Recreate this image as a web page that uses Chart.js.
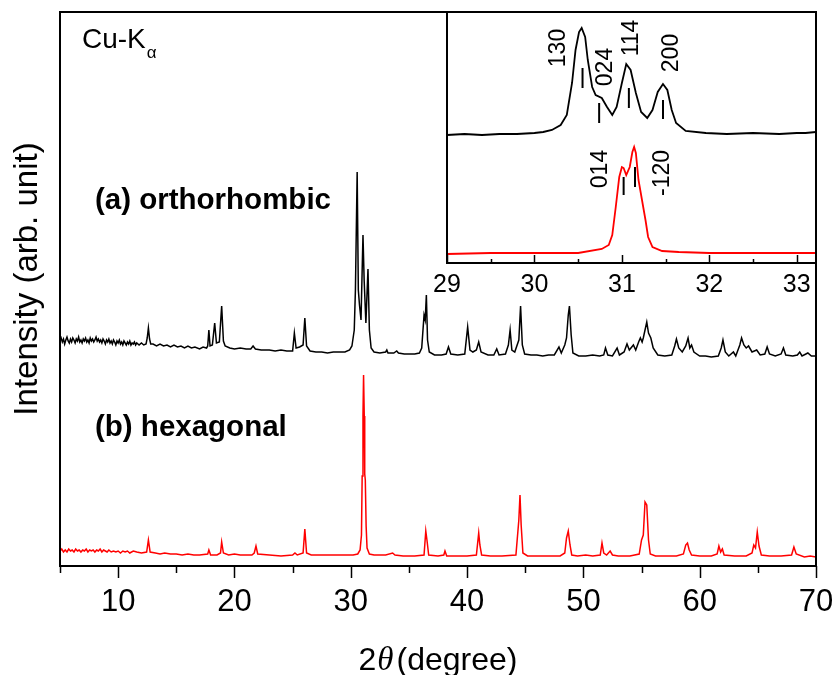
<!DOCTYPE html>
<html lang="en">
<head>
<meta charset="UTF-8">
<title>XRD - orthorhombic vs hexagonal</title>
<script src="https://cdn.jsdelivr.net/npm/chart.js@4.4.1/dist/chart.umd.min.js"></script>
<style>
  html, body { margin: 0; padding: 0; background: #fff; }
  #wrap { position: relative; width: 835px; height: 675px; }
  #mainChart { position: absolute; left: 0; top: 0; }
  #insetChart { position: absolute; left: 420px; top: 0; }
</style>
</head>
<body>
<div id="wrap">
  <canvas id="mainChart" width="835" height="675"></canvas>
  <canvas id="insetChart" width="415" height="310"></canvas>
</div>
<script>
const FONT = "'Liberation Sans', Arial, sans-serif";

// main pattern, [2theta, intensity] (arb. unit)
const orthoPattern = [
  [5.0,225],[5.1,228],[5.2,224],[5.3,227],[5.4,222],[5.5,226],[5.6,229],[5.7,225],[5.8,223],[5.9,227],
  [6.0,224],[6.1,228],[6.2,226],[6.3,223],[6.4,227],[6.5,225],[6.6,229],[6.7,224],[6.8,226],[6.9,223],
  [7.0,227],[7.1,225],[7.2,228],[7.3,224],[7.4,226],[7.5,223],[7.6,228],[7.7,225],[7.8,227],[7.9,224],
  [8.0,226],[8.1,229],[8.2,225],[8.3,227],[8.4,224],[8.5,226],[8.6,223],[8.7,227],[8.8,225],[8.9,222],
  [9.0,226],[9.1,224],[9.2,227],[9.3,223],[9.4,225],[9.5,222],[9.6,226],[9.7,224],[9.8,221],[9.9,225],
  [10.0,223],[10.1,226],[10.2,222],[10.3,224],[10.4,221],[10.5,225],[10.6,223],[10.7,221],[10.8,224],[10.9,222],
  [11.0,225],[11.1,221],[11.2,223],[11.3,222],[11.4,224],[11.5,221],[11.6,223],[11.8,221],[12.0,223],[12.2,221],
  [12.4,222],[12.5,228],[12.6,238],[12.7,227],[12.8,222],[13.0,222],[13.3,220],[13.6,222],[13.9,220],[14.2,221],
  [14.5,219],[14.8,221],[15.1,219],[15.4,220],[15.7,218],[16.0,220],[16.3,218],[16.6,219],[17.0,217],[17.3,219],
  [17.6,218],[17.7,220],[17.8,236],[17.9,220],[18.1,221],[18.3,243],[18.45,223],[18.7,224],[18.9,260],[19.05,225],
  [19.2,220],[19.6,218],[20.0,217],[20.5,218],[21.0,217],[21.4,217],[21.6,220],[21.8,217],[22.3,216],[23.0,216],
  [23.5,215],[24.0,216],[24.5,215],[25.0,215],[25.15,233],[25.3,218],[25.6,219],[25.9,221],[26.05,248],[26.2,220],
  [26.5,215],[27.0,214],[27.5,214],[28.0,213],[28.5,214],[29.0,214],[29.5,214],[29.9,216],[30.1,220],[30.3,236],
  [30.4,276],[30.55,394],[30.65,276],[30.75,261],[30.88,246],[31.05,331],[31.15,286],[31.3,243],[31.48,297],[31.6,236],
  [31.75,218],[32.0,214],[32.5,213],[33.0,214],[33.1,216],[33.2,213],[33.7,213],[33.95,215],[34.1,213],[34.6,212],
  [35.0,212],[35.5,212],[35.9,213],[36.1,218],[36.3,251],[36.4,246],[36.5,271],[36.6,226],[36.75,214],[37.2,211],
  [37.8,211],[38.2,212],[38.4,219],[38.6,212],[39.2,211],[39.8,212],[40.05,239],[40.25,216],[40.5,214],[40.8,216],
  [41.0,224],[41.2,214],[41.8,211],[42.3,211],[42.55,217],[42.75,211],[43.3,212],[43.55,221],[43.7,236],[43.85,216],
  [44.1,214],[44.45,226],[44.6,260],[44.75,221],[44.95,212],[45.5,211],[46.0,211],[46.5,210],[47.0,211],[47.5,211],
  [47.9,219],[48.1,213],[48.4,221],[48.55,228],[48.7,251],[48.8,260],[48.95,231],[49.1,213],[49.6,210],[50.2,210],
  [50.8,211],[51.4,210],[51.75,211],[51.9,218],[52.1,211],[52.5,210],[52.9,218],[53.1,211],[53.5,214],[53.75,222],
  [53.95,216],[54.3,221],[54.5,216],[54.75,224],[54.9,228],[55.05,224],[55.15,228],[55.3,236],[55.45,244],[55.6,233],
  [55.8,228],[56.0,218],[56.4,211],[57.0,210],[57.6,211],[57.85,220],[58.0,227],[58.2,218],[58.5,214],[58.8,220],
  [59.0,228],[59.15,218],[59.3,221],[59.5,214],[60.0,210],[60.5,210],[61.0,209],[61.6,210],[61.85,218],[62.0,226],
  [62.2,214],[62.5,210],[62.9,214],[63.1,210],[63.45,221],[63.6,228],[63.8,221],[64.0,218],[64.2,220],[64.5,214],
  [64.9,216],[65.2,211],[65.6,212],[65.8,219],[66.0,212],[66.5,210],[67.0,212],[67.2,218],[67.4,211],[68.0,210],
  [68.4,211],[68.6,214],[68.8,210],[69.3,213],[69.6,210],[70.0,210]
];

const hexaPattern = [
  [5.0,15],[5.15,17],[5.3,14],[5.45,16],[5.6,14],[5.75,17],[5.9,15],[6.05,16],[6.2,14],[6.35,17],
  [6.5,15],[6.65,16],[6.8,14],[6.95,16],[7.1,15],[7.25,17],[7.4,14],[7.55,16],[7.7,15],[7.85,16],
  [8.0,14],[8.15,16],[8.3,15],[8.45,17],[8.6,14],[8.75,16],[8.9,15],[9.05,14],[9.2,16],[9.4,14],
  [9.6,15],[9.8,14],[10.0,15],[10.2,13],[10.4,15],[10.6,14],[10.8,15],[11.0,13],[11.3,15],[11.6,14],
  [12.0,13],[12.45,14],[12.6,26],[12.75,14],[13.2,13],[13.6,12],[14.0,13],[14.5,12],[15.0,12],[15.5,11],
  [16.0,12],[16.5,11],[17.0,11],[17.7,12],[17.8,16],[17.95,11],[18.5,11],[18.8,13],[18.9,24],[19.05,13],
  [19.5,11],[20.0,12],[20.5,11],[21.0,11],[21.5,11],[21.7,13],[21.85,20],[22.0,12],[23.0,11],[24.0,10],
  [25.0,11],[25.2,13],[25.4,11],[25.9,13],[26.05,37],[26.2,13],[26.6,11],[27.5,11],[28.5,11],[29.5,11],
  [30.2,11],[30.6,12],[30.8,16],[30.92,31],[30.98,90],[31.05,150],[31.1,191],[31.16,150],[31.2,92],[31.25,86],
  [31.32,40],[31.4,18],[31.6,12],[32.0,11],[33.0,11],[33.6,13],[33.8,11],[34.5,10],[35.5,10],[36.3,11],[36.45,35],
  [36.55,26],[36.7,11],[37.5,10],[38.0,11],[38.1,15],[38.25,10],[39.0,10],[40.0,10],[40.8,11],[41.0,33],
  [41.1,21],[41.25,11],[42.0,10],[43.0,10],[44.2,11],[44.45,46],[44.55,71],[44.65,41],[44.8,13],[45.2,10],
  [46.0,10],[47.0,10],[48.0,10],[48.4,13],[48.55,28],[48.7,35],[48.85,21],[49.0,11],[49.5,10],[50.2,11],
  [50.8,10],[51.45,11],[51.6,23],[51.75,13],[52.0,11],[52.3,15],[52.5,11],[53.0,10],[54.0,10],[54.8,12],
  [55.0,26],[55.15,31],[55.3,64],[55.45,61],[55.6,26],[55.75,12],[56.2,10],[57.0,10],[58.0,10],[58.6,12],
  [58.8,21],[58.95,23],[59.1,16],[59.3,11],[60.0,10],[61.0,10],[61.5,12],[61.65,20],[61.8,14],[61.95,17],
  [62.1,11],[63.0,10],[64.0,10],[64.5,13],[64.65,21],[64.8,18],[64.95,34],[65.1,20],[65.3,11],[66.0,10],
  [67.0,10],[67.9,11],[68.1,19],[68.3,12],[69.0,9],[69.5,10],[70.0,9]
];

// inset, 29-33.2 deg zoom
const insetOrtho = [
  [29.0,128],[29.2,129],[29.4,128],[29.6,129],[29.8,129],[30.0,130],[30.1,131],[30.2,133],[30.3,138],[30.37,148],
  [30.43,180],[30.47,213],[30.51,231],[30.54,235],[30.58,226],[30.61,203],[30.66,176],[30.7,168],[30.77,165],[30.83,156],
  [30.89,148],[30.94,156],[31.0,180],[31.05,199],[31.1,193],[31.16,170],[31.22,151],[31.29,145],[31.35,153],[31.41,171],
  [31.47,179],[31.52,173],[31.57,153],[31.62,140],[31.73,132],[31.96,130],[32.2,129],[32.5,130],[32.8,129],[33.0,130],
  [33.1,130],[33.22,131]
];

const insetHexa = [
  [29.0,9],[29.5,10],[30.0,10],[30.5,10],[30.77,14],[30.85,18],[30.89,28],[30.93,56],[30.97,86],[31.0,96],
  [31.02,95],[31.05,88],[31.09,96],[31.12,111],[31.14,116],[31.16,110],[31.19,83],[31.23,63],[31.27,43],[31.3,26],
  [31.35,16],[31.46,12],[31.65,11],[32.0,10],[32.5,10],[33.0,10],[33.22,10]
];

// reflection labels in the inset: [text, 2theta, y] and marker bars [2theta, y0, y1]
const insetLabels = [['130',30.28,215],['024',30.81,196],['114',31.11,225],['200',31.57,210],['014',30.76,94],['-120',31.47,90]];
const insetMarks = [[30.55,175,195],[30.74,140,160],[31.08,155,175],[31.47,144,163],[31.02,68,86],[31.15,76,96]];

const xMajorTicks = [10, 20, 30, 40, 50, 60, 70];
const xMinorTicks = [5, 15, 25, 35, 45, 55, 65];
const insetMajorTicks = [29, 30, 31, 32, 33];
const insetMinorTicks = [29.5, 30.5, 31.5, 32.5];

const toXY = arr => arr.map(p => ({ x: p[0], y: p[1] }));

function drawTicks(ctx, scale, values, y, len) {
  values.forEach(v => {
    const px = Math.round(scale.getPixelForValue(v)) + 0.5;
    ctx.beginPath();
    ctx.moveTo(px, y);
    ctx.lineTo(px, y + len);
    ctx.stroke();
  });
}

const mainDeco = {
  id: 'mainDeco',
  afterDraw(chart) {
    const { ctx, chartArea: a, scales: { x } } = chart;
    ctx.save();
    ctx.strokeStyle = '#000';
    ctx.lineWidth = 2;
    ctx.strokeRect(a.left, a.top, a.right - a.left, a.bottom - a.top);
    ctx.lineWidth = 1.5;
    drawTicks(ctx, x, xMajorTicks, a.bottom, 12);
    drawTicks(ctx, x, xMinorTicks, a.bottom, 7);

    ctx.fillStyle = '#000';
    // y title
    ctx.save();
    ctx.translate(28, 279);
    ctx.rotate(-Math.PI / 2);
    ctx.font = '33px ' + FONT;
    ctx.textAlign = 'center';
    ctx.textBaseline = 'middle';
    ctx.fillText('Intensity (arb. unit)', 0, 0);
    ctx.restore();

    // x title: 2θ(degree)
    ctx.textBaseline = 'alphabetic';
    ctx.textAlign = 'left';
    const fN = '32px ' + FONT, fI = 'italic 33px "Liberation Serif", serif';
    ctx.font = fN; const w1 = ctx.measureText('2').width, w3 = ctx.measureText('(degree)').width;
    ctx.font = fI; const w2 = ctx.measureText('θ').width;
    let tx = (a.left + a.right) / 2 - (w1 + w2 + 4 + w3) / 2;
    ctx.font = fN; ctx.fillText('2', tx, 670); tx += w1 + 1;
    ctx.font = fI; ctx.fillText('θ', tx, 670); tx += w2 + 3;
    ctx.font = fN; ctx.fillText('(degree)', tx, 670);

    // labels
    ctx.font = 'bold 29.5px ' + FONT;
    ctx.fillText('(a) orthorhombic', 95, 209);
    ctx.fillText('(b) hexagonal', 95, 436);
    ctx.font = '28px ' + FONT;
    ctx.fillText('Cu-K', 82, 48);
    const kw = ctx.measureText('Cu-K').width;
    ctx.font = '17px ' + FONT;
    ctx.fillText('α', 82 + kw + 1, 58);
    ctx.restore();
  }
};

const insetDeco = {
  id: 'insetDeco',
  afterDraw(chart) {
    const { ctx, chartArea: a, scales: { x, y } } = chart;
    ctx.save();
    ctx.strokeStyle = '#000';
    ctx.lineWidth = 2;
    ctx.strokeRect(a.left, a.top, a.right - a.left, a.bottom - a.top);
    ctx.lineWidth = 1.5;
    drawTicks(ctx, x, insetMajorTicks, a.bottom, -8);
    drawTicks(ctx, x, insetMinorTicks, a.bottom, -4);

    ctx.lineWidth = 2;
    insetMarks.forEach(m => {
      const px = x.getPixelForValue(m[0]);
      ctx.beginPath();
      ctx.moveTo(px, y.getPixelForValue(m[1]));
      ctx.lineTo(px, y.getPixelForValue(m[2]));
      ctx.stroke();
    });

    ctx.fillStyle = '#000';
    ctx.font = '23px ' + FONT;
    ctx.textAlign = 'center';
    ctx.textBaseline = 'middle';
    insetLabels.forEach(l => {
      ctx.save();
      ctx.translate(x.getPixelForValue(l[1]), y.getPixelForValue(l[2]));
      ctx.rotate(-Math.PI / 2);
      ctx.fillText(l[0], 0, 0);
      ctx.restore();
    });
    ctx.restore();
  }
};

const commonOpts = {
  responsive: false,
  animation: false,
  devicePixelRatio: 1,
  elements: { point: { radius: 0 }, line: { tension: 0 } },
  plugins: { legend: { display: false }, tooltip: { enabled: false } }
};

// keep the tick labels from pushing the plot edges inward
const noEdgePad = s => { s.paddingLeft = 0; s.paddingRight = 0; };

new Chart(document.getElementById('mainChart'), {
  type: 'line',
  data: {
    datasets: [
      { data: toXY(orthoPattern), borderColor: '#000000', borderWidth: 1.5 },
      { data: toXY(hexaPattern), borderColor: '#ff0000', borderWidth: 1.5 }
    ]
  },
  options: {
    ...commonOpts,
    layout: { padding: { left: 60, right: 19, top: 12, bottom: 0 } },
    scales: {
      x: {
        type: 'linear', min: 5, max: 70,
        afterBuildTicks: s => { s.ticks = xMajorTicks.map(v => ({ value: v })); },
        afterFit: s => { s.height = 109; noEdgePad(s); },
        grid: { display: false, drawTicks: false },
        border: { display: false },
        ticks: { font: { family: FONT, size: 31 }, color: '#000', padding: 18, maxRotation: 0, autoSkip: false }
      },
      y: { display: false, min: 0, max: 554 }
    }
  },
  plugins: [mainDeco]
});

new Chart(document.getElementById('insetChart'), {
  type: 'line',
  data: {
    datasets: [
      { data: toXY(insetOrtho), borderColor: '#000000', borderWidth: 1.8 },
      { data: toXY(insetHexa), borderColor: '#ff0000', borderWidth: 1.8 }
    ]
  },
  options: {
    ...commonOpts,
    layout: { padding: { left: 27, right: 19, top: 12, bottom: 0 } },
    scales: {
      x: {
        type: 'linear', min: 29, max: 33.22,
        afterBuildTicks: s => { s.ticks = insetMajorTicks.map(v => ({ value: v })); },
        afterFit: s => { s.height = 47; noEdgePad(s); },
        grid: { display: false, drawTicks: false },
        border: { display: false },
        ticks: { font: { family: FONT, size: 25 }, color: '#000', padding: 7, maxRotation: 0, autoSkip: false }
      },
      y: { display: false, min: 0, max: 251 }
    }
  },
  plugins: [insetDeco]
});
</script>
</body>
</html>
